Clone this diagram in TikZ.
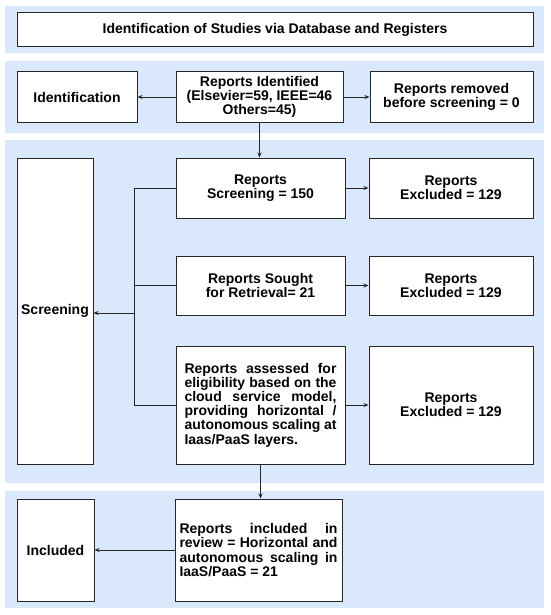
\documentclass[tikz,border=0pt]{standalone}
\usepackage{fontspec}
\setmainfont{Liberation Sans}
\usetikzlibrary{arrows.meta}
\definecolor{band}{HTML}{DAE8FC}
\definecolor{edge}{HTML}{262626}
\begin{document}
\begin{tikzpicture}[x=1pt,y=-1pt,
  box/.style={draw=edge, line width=1pt, fill=white, inner sep=0pt,
    font=\bfseries\fontsize{14}{14.2}\selectfont, align=center},
  conn/.style={draw=edge, line width=0.9pt},
  arr/.style={conn, -{Stealth[length=5pt,width=4pt]}},
  bandfill/.style={fill=band, draw=none}]
\useasboundingbox[fill=white] (0,0) rectangle (550,615);
% bands
\fill[bandfill] (5,6) rectangle (544,53);
\fill[bandfill] (5,61) rectangle (544,133);
\fill[bandfill] (5,140) rectangle (544,483);
\fill[bandfill] (5,491) rectangle (544,608);
% nodes
\node[box, minimum width=516pt, minimum height=34pt] (title) at (275,30)
  {Identification of Studies via Database and Registers};
\node[box, minimum width=120pt, minimum height=50pt] (ident) at (77,97) {Identification};
\node[box, minimum width=167pt, minimum height=50pt] (repid) at (259.5,97)
  {Reports Identified\\(Elsevier=59, IEEE=46\\Others=45)};
\node[box, minimum width=163pt, minimum height=50pt] (removed) at (451.5,97)
  {Reports removed\\before screening = 0};
\node[box, minimum width=76pt, minimum height=306pt] (screenL) at (55,311) {Screening};
\node[box, minimum width=169pt, minimum height=60pt] (scr) at (260.5,188)
  {Reports\\Screening = 150};
\node[box, minimum width=164pt, minimum height=60pt] (exc1) at (451,188)
  {Reports\\Excluded = 129};
\node[box, minimum width=169pt, minimum height=59pt] (sought) at (260.5,285.5)
  {Reports Sought\\for Retrieval= 21};
\node[box, minimum width=164pt, minimum height=59pt] (exc2) at (451,285.5)
  {Reports\\Excluded = 129};
\node[box, minimum width=169pt, minimum height=118pt, align=left] (assess) at (260.5,405)
  {\makebox[152pt][s]{Reports assessed for}\\
   \makebox[152pt][s]{eligibility based on the}\\
   \makebox[152pt][s]{cloud service model,}\\
   \makebox[152pt][s]{providing horizontal /}\\
   \makebox[152pt][s]{autonomous scaling at}\\
   \makebox[152pt][l]{Iaas/PaaS layers.}};
\node[box, minimum width=164pt, minimum height=118pt] (exc3) at (451,405)
  {Reports\\Excluded = 129};
\node[box, minimum width=77pt, minimum height=102pt] (inclL) at (55.5,550) {Included};
\node[box, minimum width=167pt, minimum height=102pt, align=left] (incl) at (258.5,550)
  {\makebox[158pt][s]{Reports included in}\\
   \makebox[158pt][s]{review = Horizontal and}\\
   \makebox[158pt][s]{autonomous scaling in}\\
   \makebox[158pt][l]{IaaS/PaaS = 21}};
% connectors
\coordinate (bx) at (134,313);
\draw[arr] (repid.west) -- (ident.east);
\draw[arr] (repid.east) -- (removed.west);
\draw[arr] (repid.south) -- (repid.south |- scr.north);
\draw[arr] (scr.east) -- (exc1.west);
\draw[arr] (sought.east) -- (exc2.west);
\draw[arr] (assess.east) -- (exc3.west);
\draw[conn] (scr.west) -- (scr.west -| bx) -- (assess.west -| bx) -- (assess.west);
\draw[conn] (sought.west) -- (sought.west -| bx);
\draw[arr] (bx) -- (bx -| screenL.east);
\draw[arr] (assess.south) -- (assess.south |- incl.north);
\draw[arr] (incl.west) -- (inclL.east);
\end{tikzpicture}
\end{document}
